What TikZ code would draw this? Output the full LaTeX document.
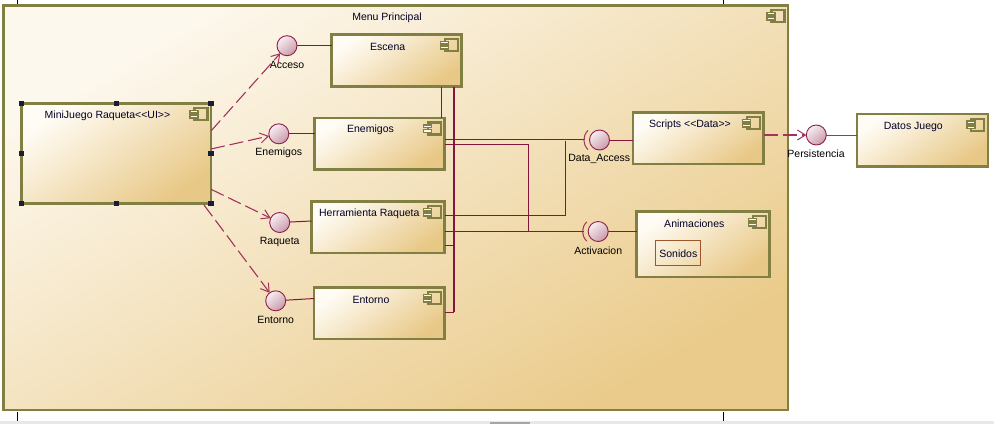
\documentclass[tikz,border=0pt]{standalone}
\usepackage{fontspec}
\setmainfont{Liberation Sans}
\usetikzlibrary{arrows.meta,calc}
\definecolor{compborder}{HTML}{817F42}
\definecolor{boxlight}{HTML}{FFFCF5}
\definecolor{boxdark}{HTML}{E8C886}
\definecolor{framelight}{HTML}{FDF8EE}
\definecolor{framedark}{HTML}{EACB8B}
\definecolor{wire}{HTML}{84163E}
\definecolor{dep}{HTML}{A2335E}
\definecolor{ballline}{HTML}{8E1E4C}
\definecolor{balllight}{HTML}{F8EEF1}
\definecolor{balldark}{HTML}{C99AAB}
\definecolor{sonido}{HTML}{A0562A}
\definecolor{handle}{HTML}{1C1C38}
\newcommand\compicon[1]{%
  \draw[iconline] ($(#1.north east)+(-16.5,4.5)$) rectangle ($(#1.north east)+(-3.5,16.5)$);
  \draw[draw=compborder,line width=1.4pt,fill=boxlight] ($(#1.north east)+(-21,6.8)$) rectangle ($(#1.north east)+(-13,9.6)$);
  \draw[draw=compborder,line width=1.4pt,fill=boxlight] ($(#1.north east)+(-21,11.6)$) rectangle ($(#1.north east)+(-13,14.4)$);
}
\newcommand\socket[1]{%
  \draw[draw=dep,line width=1pt] ($(#1)+(-11.5,-9.6)$) .. controls ($(#1)+(-17,-4)$) and ($(#1)+(-17,4)$) .. ($(#1)+(-11.5,9.6)$);
}
\begin{document}
\begin{tikzpicture}[x=1pt,y=-1pt,
  every node/.style={inner sep=0pt,outer sep=0pt},
  comp/.style={draw=compborder,line width=2.4pt,shading=axis,top color=boxlight,bottom color=boxdark,shading angle=35},
  framebox/.style={draw=compborder,line width=2.4pt,shading=axis,top color=framelight,bottom color=framedark,shading angle=30},
  ttl/.style={font=\fontsize{10.5}{12}\selectfont,text=black!85!blue},
  lbl/.style={font=\fontsize{10.5}{12}\selectfont,text=black},
  ball/.style={circle,draw=ballline,line width=0.9pt,minimum size=20pt,shading=axis,top color=balllight,bottom color=balldark,shading angle=40},
  wireline/.style={draw=wire,line width=1pt},
  depline/.style={draw=dep,line width=1.1pt,dash pattern=on 14pt off 5pt,-{Straight Barb[length=8pt,width=10pt,line width=1pt]}},
  iconline/.style={draw=compborder,line width=2.2pt},
  hnd/.style={fill=handle,minimum size=5.5pt}
]
\useasboundingbox (0,0) rectangle (994,424);
% bottom bar and ticks
\fill[black!9] (0,421) rectangle (994,424);
\fill[black!35] (490,422) rectangle (530,424);
\draw[black,line width=0.8pt] (17,0) -- (17,4);
\draw[black,line width=0.8pt] (723,0) -- (723,4);
\draw[black,line width=0.8pt] (17,412) -- (17,421);
\draw[black,line width=0.8pt] (723,412) -- (723,421);
% frame
\node[framebox,minimum width=784.5pt,minimum height=404.5pt] (frame) at (395.75,207.75) {};
\compicon{frame}
\node[ttl] (tframe) at (387,17.5) {Menu Principal};
% components
\node[comp,minimum width=189.5pt,minimum height=99.8pt] (mini) at (116.25,153.4) {};
\node[comp,minimum width=130pt,minimum height=52pt] (escena) at (396.5,60.5) {};
\node[comp,minimum width=130pt,minimum height=51.5pt] (enem) at (379.5,143.75) {};
\node[comp,minimum width=133pt,minimum height=51.7pt] (herr) at (378,227.35) {};
\node[comp,minimum width=130.3pt,minimum height=51.7pt] (ento) at (379.35,313.35) {};
\node[comp,minimum width=130.3pt,minimum height=51.7pt] (scripts) at (698.35,138.35) {};
\node[comp,minimum width=133pt,minimum height=65.3pt] (anim) at (703,244.15) {};
\node[comp,minimum width=131pt,minimum height=52.3pt] (datos) at (922.3,140.35) {};
\node[draw=sonido,line width=1.2pt,minimum width=45pt,minimum height=24.7pt] (son) at (678.3,253.15) {};
\foreach \n in {mini,escena,enem,herr,ento,scripts,anim,datos}{\compicon{\n}}
\node[ttl] (tmini) at (107.5,116) {MiniJuego Raqueta{<}{<}UI{>}{>}};
\node[ttl] (tesc) at (387.7,47) {Escena};
\node[ttl] (tenem) at (370.5,130) {Enemigos};
\node[ttl] (therr) at (369.3,214) {Herramienta Raqueta};
\node[ttl] (tento) at (371,300) {Entorno};
\node[ttl] (tscr) at (690,125) {Scripts {<}{<}Data{>}{>}};
\node[ttl] (tanim) at (694.3,224) {Animaciones};
\node[ttl] (tson) at (678.3,254) {Sonidos};
\node[ttl] (tdat) at (913.3,126.5) {Datos Juego};
% selection handles
\foreach \p/\nm in {{(21.5,103.5)}/h1,{(116.25,103.5)}/h2,{(211,103.5)}/h3,{(21.5,153.4)}/h4,{(211,153.4)}/h5,{(21.5,203.3)}/h6,{(116.25,203.3)}/h7,{(211,203.3)}/h8}
  {\node[hnd] (\nm) at \p {};}
% interface ball centres
\coordinate (cAcc) at (287,45.7);
\coordinate (cEne) at (278.8,133.8);
\coordinate (cRaq) at (279.7,222.5);
\coordinate (cEnt) at (275.7,300.8);
\coordinate (cDA) at (599.5,140);
\coordinate (cAct) at (598.2,231.5);
\coordinate (cPer) at (816.3,135);
% wiring
\coordinate (escB1) at ($(escena.south west)!0.847!(escena.south east)$);
\coordinate (escB2) at ($(escena.south west)!0.946!(escena.south east)$);
\draw[wireline] (escB1) -- (escB1 |- enem.north);
\draw[draw=wire,line width=2pt] (escB2) -- (escB2 |- 0,312.3);
\draw[wireline] (ento.east |- 0,312.3) -- (escB2 |- 0,312.3);
\draw[wireline] (herr.east |- 0,245) -- (escB2 |- 0,245);
\draw[wireline] (enem.east |- 0,139) -- (585,139);
\draw[wireline] (enem.east |- 0,144.3) -- (528.3,144.3) -- (528.3,231.5);
\draw[wireline] (herr.east |- 0,215.5) -- (565.7,215.5) -- (565.7,141);
\draw[wireline] (herr.east |- 0,231.5) -- (584,231.5);
\draw[wireline] (cAcc) -- (escena.west |- cAcc);
\draw[wireline] (cEne) -- (enem.west |- cEne);
\draw[wireline] (cRaq) -- (herr.west |- 0,221);
\draw[wireline] (cEnt) -- (ento.west |- 0,298.5);
\draw[wireline] (cDA) -- (scripts.west |- cDA);
\draw[wireline] (cAct) -- (anim.west |- cAct);
\draw[draw=dep,line width=1pt] (cPer) -- (datos.west |- cPer);
% sockets
\socket{cDA}
\socket{cAct}
% balls
\node[ball] (acc) at (cAcc) {};
\node[ball] (ene) at (cEne) {};
\node[ball] (raq) at (cRaq) {};
\node[ball] (ent) at (cEnt) {};
\node[ball] (da) at (cDA) {};
\node[ball] (act) at (cAct) {};
\node[ball] (per) at (cPer) {};
\node[lbl] (lacc) at (287,65) {Acceso};
\node[lbl] (lene) at (278.8,153) {Enemigos};
\node[lbl] (lraq) at (279.7,242) {Raqueta};
\node[lbl] (lent) at (275.7,320) {Entorno};
\node[lbl] (lda) at (599.3,159) {Data\_Access};
\node[lbl] (lact) at (598.2,251) {Activacion};
\node[lbl] (lper) at (816,154) {Persistencia};
% dependencies
\draw[depline] (mini.east |- 0,131) -- (acc);
\draw[depline] (mini.east |- 0,149) -- (ene);
\draw[depline] (mini.east |- 0,189.3) -- (raq);
\draw[depline] (204,205) -- (ent);
\draw[depline] (scripts.east |- per) -- (per);
\end{tikzpicture}
\end{document}
